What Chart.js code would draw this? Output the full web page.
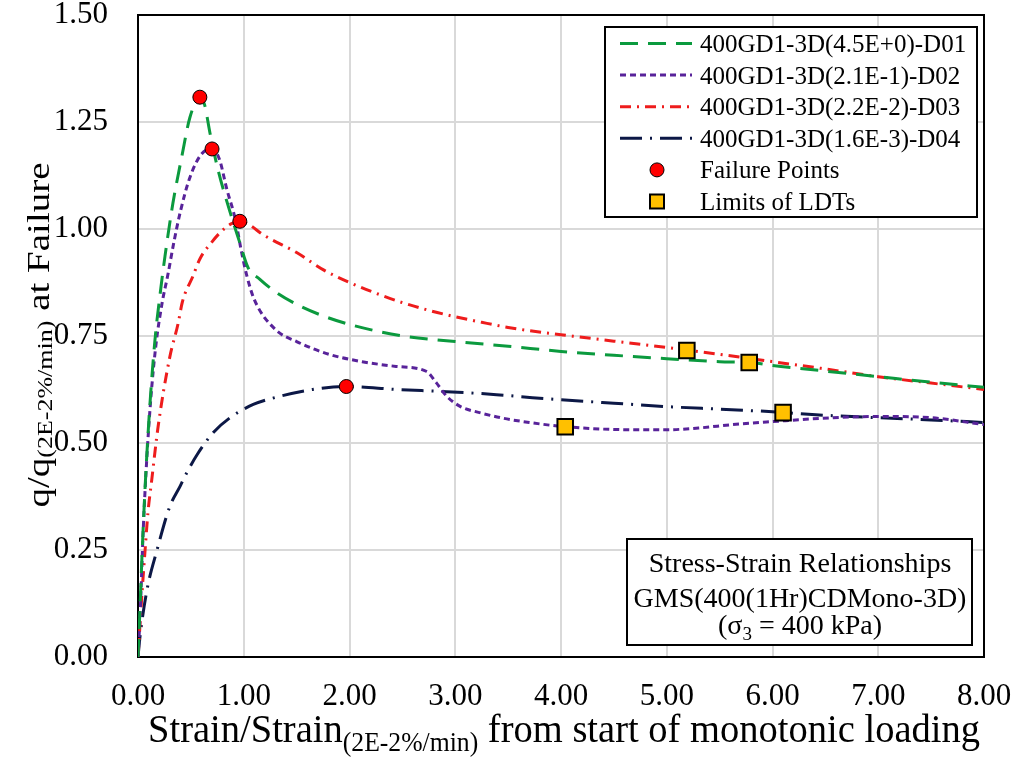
<!DOCTYPE html>
<html>
<head>
<meta charset="utf-8">
<script src="https://cdn.jsdelivr.net/npm/chart.js@4/dist/chart.umd.min.js"></script>
<style>
  html, body { margin: 0; padding: 0; background: #ffffff; }
  #wrap { width: 1021px; height: 757px; }
</style>
</head>
<body>
<div id="wrap"><canvas id="c" width="1021" height="757"></canvas></div>
<script>
// Normalised stress–strain curves: [strain ratio, q ratio]
const d01 = [[0,0],[0.02,0.12],[0.04,0.25],[0.07,0.41],[0.11,0.58],[0.16,0.74],[0.21,0.85],[0.255,0.936],[0.33,1.06],[0.415,1.17],[0.49,1.26],[0.585,1.308],[0.63,1.29],[0.68,1.225],[0.755,1.14],[0.87,1.04],[0.96,0.97],[1.04,0.91],[1.15,0.883],[1.3,0.853],[1.5,0.824],[1.75,0.797],[2.0,0.777],[2.5,0.75],[3.0,0.737],[3.5,0.726],[4.0,0.714],[4.5,0.705],[5.0,0.697],[5.5,0.69],[5.8,0.688],[6.0,0.681],[6.5,0.668],[7.0,0.655],[7.5,0.642],[8.0,0.63]];
const d02 = [[0,0],[0.02,0.1],[0.05,0.3],[0.08,0.45],[0.12,0.6],[0.17,0.73],[0.23,0.83],[0.28,0.89],[0.34,0.97],[0.40,1.04],[0.49,1.12],[0.60,1.175],[0.70,1.187],[0.77,1.163],[0.84,1.093],[0.92,1.023],[0.98,0.945],[1.03,0.89],[1.10,0.835],[1.3,0.765],[1.5,0.737],[1.81,0.707],[2.12,0.69],[2.44,0.679],[2.73,0.667],[2.82,0.641],[2.92,0.609],[3.05,0.585],[3.23,0.571],[3.45,0.558],[3.7,0.548],[4.04,0.538],[4.67,0.531],[5.0,0.531],[5.3,0.535],[5.62,0.543],[6.0,0.55],[6.56,0.559],[7.0,0.562],[7.5,0.559],[8.0,0.543]];
const d03 = [[0,0],[0.02,0.08],[0.04,0.157],[0.07,0.26],[0.094,0.337],[0.13,0.414],[0.19,0.538],[0.30,0.70],[0.38,0.78],[0.42,0.83],[0.52,0.89],[0.585,0.93],[0.7,0.97],[0.79,0.995],[0.88,1.012],[0.963,1.018],[1.05,1.01],[1.18,0.987],[1.5,0.945],[1.75,0.905],[2.0,0.875],[2.25,0.85],[2.5,0.828],[2.75,0.81],[3.0,0.795],[3.25,0.782],[3.5,0.77],[4.0,0.753],[4.5,0.738],[5.0,0.723],[5.5,0.707],[6.0,0.69],[6.5,0.673],[7.0,0.655],[7.5,0.64],[8.0,0.625]];
const d04 = [[0,0],[0.02,0.05],[0.085,0.157],[0.18,0.25],[0.30,0.351],[0.40,0.40],[0.46,0.43],[0.56,0.473],[0.71,0.524],[0.87,0.559],[1.09,0.59],[1.34,0.609],[1.65,0.625],[1.97,0.632],[2.45,0.625],[2.92,0.62],[3.39,0.613],[3.73,0.606],[4.0,0.601],[4.5,0.593],[5.0,0.585],[5.5,0.579],[6.0,0.573],[6.41,0.566],[7.0,0.559],[7.5,0.554],[8.0,0.548]];

// Marker sets
const failurePoints = [[0.585,1.308],[0.70,1.187],[0.963,1.018],[1.97,0.632]];
const ldtLimits = [[5.19,0.716],[5.78,0.688],[4.04,0.538],[6.10,0.571]];

// Labels
const seriesNames = ['400GD1-3D(4.5E+0)-D01','400GD1-3D(2.1E-1)-D02','400GD1-3D(2.2E-2)-D03','400GD1-3D(1.6E-3)-D04'];
const markerNames = ['Failure Points','Limits of LDTs'];
const xTicks = [0,1,2,3,4,5,6,7,8];
const yTicks = [0,0.25,0.5,0.75,1.0,1.25,1.5];
const noteLines = ['Stress-Strain Relationships','GMS(400(1Hr)CDMono-3D)'];

const SERIF = '"Liberation Serif", "Times New Roman", serif';
const toXY = arr => arr.map(([x, y]) => ({ x, y }));

const lineStyles = [
  { color: '#0b9a3e', dash: [18, 10] },
  { color: '#58239a', dash: [6, 4] },
  { color: '#ee1c1c', dash: [11, 6, 2, 6] },
  { color: '#0c1846', dash: [22, 8, 2, 8] }
];

function curve(i, pts) {
  return {
    label: seriesNames[i],
    data: toXY(pts),
    showLine: true,
    borderColor: lineStyles[i].color,
    backgroundColor: lineStyles[i].color,
    borderWidth: 3,
    borderDash: lineStyles[i].dash,
    pointRadius: 0,
    pointHoverRadius: 0,
    cubicInterpolationMode: 'monotone',
    order: 2
  };
}

// Lay out a sequence of [text, isSubscript] runs
function drawRuns(ctx, runs, size, subSize, subDrop) {
  let w = 0;
  const parts = runs.map(([t, sub]) => {
    ctx.font = (sub ? subSize : size) + 'px ' + SERIF;
    const m = ctx.measureText(t).width;
    const p = { t, sub, x: w, w: m };
    w += m;
    return p;
  });
  return {
    width: w,
    draw(x0, y0) {
      parts.forEach(p => {
        ctx.font = (p.sub ? subSize : size) + 'px ' + SERIF;
        ctx.fillText(p.t, x0 + p.x, y0 + (p.sub ? subDrop : 0));
      });
    }
  };
}

const decorations = {
  id: 'decorations',
  beforeDatasetsDraw(chart) {
    const { ctx, chartArea: a } = chart;
    ctx.save();
    ctx.strokeStyle = '#000';
    ctx.lineWidth = 2;
    ctx.strokeRect(a.left, a.top, a.right - a.left, a.bottom - a.top);
    ctx.restore();
  },
  afterDatasetsDraw(chart) {
    const { ctx } = chart;
    ctx.save();
    ctx.fillStyle = '#000';
    ctx.textBaseline = 'alphabetic';
    ctx.textAlign = 'left';

    // Legend box
    ctx.fillStyle = '#fff';
    ctx.fillRect(605, 27, 372, 190);
    ctx.strokeStyle = '#000';
    ctx.lineWidth = 2;
    ctx.strokeRect(605, 27, 372, 190);
    const rowH = 31.6;
    for (let i = 0; i < 6; i++) {
      const base = 52 + i * rowH;
      const cy = base - 8.5;
      if (i < 4) {
        ctx.save();
        ctx.strokeStyle = lineStyles[i].color;
        ctx.lineWidth = 3;
        ctx.setLineDash(lineStyles[i].dash);
        ctx.beginPath();
        ctx.moveTo(620, cy);
        ctx.lineTo(692, cy);
        ctx.stroke();
        ctx.restore();
      } else if (i === 4) {
        ctx.beginPath();
        ctx.arc(657, cy, 7, 0, Math.PI * 2);
        ctx.fillStyle = '#ff0000';
        ctx.fill();
        ctx.lineWidth = 1;
        ctx.strokeStyle = '#000';
        ctx.stroke();
      } else {
        ctx.fillStyle = '#ffc000';
        ctx.fillRect(650, cy - 7, 14, 14);
        ctx.lineWidth = 2;
        ctx.strokeStyle = '#000';
        ctx.strokeRect(650, cy - 7, 14, 14);
      }
      ctx.fillStyle = '#000';
      ctx.font = '25px ' + SERIF;
      ctx.fillText(i < 4 ? seriesNames[i] : markerNames[i - 4], 700, base);
    }

    // Test-condition note box
    ctx.fillStyle = '#fff';
    ctx.fillRect(627, 539, 345, 106);
    ctx.strokeStyle = '#000';
    ctx.lineWidth = 2;
    ctx.strokeRect(627, 539, 345, 106);
    ctx.fillStyle = '#000';
    ctx.textAlign = 'center';
    ctx.font = '28px ' + SERIF;
    ctx.fillText(noteLines[0], 800, 572);
    ctx.fillText(noteLines[1], 800, 607);
    ctx.textAlign = 'left';
    const sig = drawRuns(ctx, [['(\u03c3', 0], ['3', 1], [' = 400 kPa)', 0]], 28, 19, 6);
    sig.draw(800 - sig.width / 2, 634);

    // Axis titles
    const xt = drawRuns(ctx, [['Strain/Strain', 0], ['(2E-2%/min)', 1], [' from start of monotonic loading', 0]], 39, 26, 9);
    ctx.save();
    ctx.translate(148, 742);
    ctx.scale(832 / xt.width, 1.05);
    xt.draw(0, 0);
    ctx.restore();

    const yt = drawRuns(ctx, [['q/q', 0], ['(2E-2%/min)', 1], [' at Failure', 0]], 39, 26, 4);
    ctx.save();
    ctx.translate(49, 335);
    ctx.rotate(-Math.PI / 2);
    ctx.scale(1, 0.82);
    yt.draw(-yt.width / 2, 0);
    ctx.restore();

    ctx.restore();
  }
};

new Chart(document.getElementById('c'), {
  type: 'scatter',
  data: {
    datasets: [
      {
        label: markerNames[0],
        data: toXY(failurePoints),
        pointStyle: 'circle',
        pointRadius: 7,
        pointBackgroundColor: '#ff0000',
        pointBorderColor: '#000',
        pointBorderWidth: 1,
        showLine: false,
        order: 0
      },
      {
        label: markerNames[1],
        data: toXY(ldtLimits),
        pointStyle: 'rect',
        pointRadius: 11,
        pointBackgroundColor: '#ffc000',
        pointBorderColor: '#000',
        pointBorderWidth: 2,
        showLine: false,
        order: 0
      },
      curve(0, d01),
      curve(1, d02),
      curve(2, d03),
      curve(3, d04)
    ]
  },
  options: {
    responsive: false,
    animation: false,
    devicePixelRatio: 1,
    layout: { padding: { left: 0, right: 37, top: 15, bottom: 0 } },
    plugins: {
      legend: { display: false },
      tooltip: { enabled: false },
      title: { display: false }
    },
    scales: {
      x: {
        type: 'linear',
        min: 0,
        max: 8,
        afterBuildTicks: s => { s.ticks = xTicks.map(v => ({ value: v })); },
        afterFit: s => { s.height = 100; s.paddingLeft = 0; s.paddingRight = 0; },
        ticks: {
          padding: 24,
          color: '#000',
          font: { family: SERIF, size: 31, lineHeight: 1 },
          maxRotation: 0,
          callback: v => Number(v).toFixed(2)
        },
        grid: { color: '#d9d9d9', lineWidth: 2, drawTicks: false },
        border: { display: false }
      },
      y: {
        type: 'linear',
        min: 0,
        max: 1.5,
        afterBuildTicks: s => { s.ticks = yTicks.map(v => ({ value: v })); },
        afterFit: s => { s.width = 138; s.paddingTop = 0; s.paddingBottom = 0; },
        ticks: {
          padding: 30,
          color: '#000',
          font: { family: SERIF, size: 31, lineHeight: 1 },
          callback: v => Number(v).toFixed(2)
        },
        grid: { color: '#d9d9d9', lineWidth: 2, drawTicks: false },
        border: { display: false }
      }
    }
  },
  plugins: [decorations]
});
</script>
</body>
</html>
